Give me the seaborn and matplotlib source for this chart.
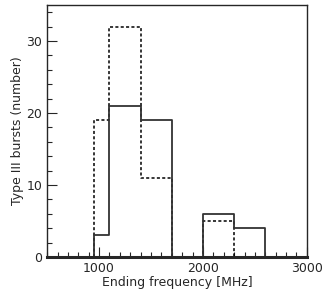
import numpy as np
import pandas as pd
import matplotlib
matplotlib.use('Agg')
import matplotlib.pyplot as plt
import seaborn as sns
from matplotlib.ticker import MultipleLocator

# bin edges (MHz) and counts
# (empty bins at both ends so the outline drops to zero)
bin_edges = [800, 950, 1100, 1400, 1700, 2000, 2300, 2600, 2750]
solid_counts = [0, 3, 21, 19, 0, 6, 4, 0]
dotted_counts = [0, 19, 32, 11, 0, 5, 0, 0]

n = len(solid_counts)
df = pd.DataFrame({
    'freq': bin_edges[:-1] * 2,
    'count': solid_counts + dotted_counts,
    'set': ['solid'] * n + ['dotted'] * n,
})

sns.set_style('ticks')
plt.rcParams['font.family'] = ['DejaVu Sans']

fig = plt.figure(figsize=(3.23, 2.96), dpi=100)
ax = fig.add_axes([0.146, 0.132, 0.804, 0.851])

sns.histplot(data=df[df['set'] == 'dotted'], x='freq', weights='count', bins=bin_edges,
             element='step', fill=False, color='black', linestyle=(0, (2, 1.5)),
             linewidth=1.1, ax=ax)
sns.histplot(data=df[df['set'] == 'solid'], x='freq', weights='count', bins=bin_edges,
             element='step', fill=False, color='#333333', linewidth=1.3, ax=ax)

ax.set_xlim(500, 3000)
ax.set_ylim(0, 35)
ax.set_xticks([1000, 2000, 3000])
ax.set_yticks([0, 10, 20, 30])
ax.xaxis.set_minor_locator(MultipleLocator(100))
ax.yaxis.set_minor_locator(MultipleLocator(2))
ax.tick_params(which='both', direction='in', top=False, right=False, labelsize=9)
ax.tick_params(which='major', length=7, width=0.8)
ax.tick_params(which='minor', length=3.5, width=0.8)
for s in ax.spines.values():
    s.set_linewidth(1.0)
    s.set_zorder(5)
ax.spines['bottom'].set_linewidth(2.2)
ax.set_xlabel('Ending frequency [MHz]', fontsize=9, labelpad=1)
ax.set_ylabel('Type III bursts (number)', fontsize=9, labelpad=2)

fig.savefig('out.png', dpi=100)
